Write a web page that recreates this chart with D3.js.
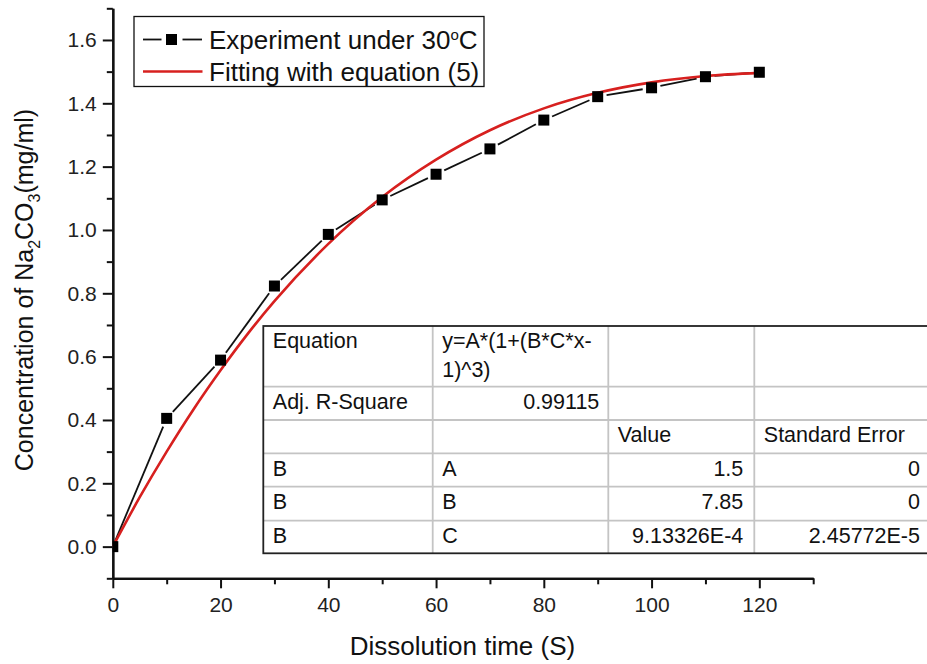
<!DOCTYPE html>
<html>
<head>
<meta charset="utf-8">
<script src="https://cdn.jsdelivr.net/npm/d3@7"></script>
<style>
  html, body { margin: 0; padding: 0; background: #fff; }
  svg { display: block; font-family: "Liberation Sans", Arial, sans-serif; }
</style>
</head>
<body>
<svg id="chart" width="927" height="664"></svg>
<script>
// Measured dissolution data at 30 °C
const timeS = [0, 10, 20, 30, 40, 50, 60, 70, 80, 90, 100, 110, 120];
const concentration = [0, 0.405, 0.589, 0.823, 0.986, 1.095, 1.176, 1.256, 1.347, 1.421, 1.449, 1.484, 1.498];

// Fitted curve, sampled along the time axis
const fitTime = [0, 5, 10, 15, 20, 25, 30, 40, 50, 60, 70, 80, 90, 100, 110, 120];
const fitConc = [0, 0.156, 0.300, 0.434, 0.557, 0.671, 0.775, 0.956, 1.104, 1.222, 1.315, 1.384, 1.433, 1.466, 1.486, 1.496];

// Axis ticks
const xMajorTicks = [0, 20, 40, 60, 80, 100, 120];
const xMinorTicks = [10, 30, 50, 70, 90, 110, 130];
const yMajorTicks = [0, 0.2, 0.4, 0.6, 0.8, 1.0, 1.2, 1.4, 1.6];
const yMinorTicks = [-0.1, 0.1, 0.3, 0.5, 0.7, 0.9, 1.1, 1.3, 1.5, 1.7];

// Legend entries
const legendLabels = ["Experiment under 30", "Fitting with equation (5)"];

// Fit results table
const tableRows = [
  ["Equation", "y=A*(1+(B*C*x-|1)^3)", "", ""],
  ["Adj. R-Square", "0.99115", "", ""],
  ["", "", "Value", "Standard Error"],
  ["B", "A", "1.5", "0"],
  ["B", "B", "7.85", "0"],
  ["B", "C", "9.13326E-4", "2.45772E-5"]
];

const RED = "#d7201f";
const INK = "#111";

const svg = d3.select("#chart");

const x = d3.scaleLinear().domain([0, 130]).range([112.8, 813.2]);
const y = d3.scaleLinear().domain([-0.1, 1.7]).range([578.3, 8.3]);

// ---- axes ----
function styleAxis(g) {
  g.selectAll("path.domain").attr("stroke", INK).attr("stroke-width", 2.2);
  g.selectAll(".tick line").attr("stroke", INK).attr("stroke-width", 2);
  g.selectAll(".tick text").attr("fill", "#222")
    .style("font-family", "'Liberation Sans', Arial, sans-serif").style("font-size", "21px");
}

const xAxisMinor = d3.axisBottom(x).tickValues(xMinorTicks).tickSize(6).tickSizeOuter(0).tickFormat("");
const xAxis = d3.axisBottom(x).tickValues(xMajorTicks).tickSize(10).tickSizeOuter(0).tickPadding(9)
  .tickFormat(d3.format("d"));
svg.append("g").attr("transform", `translate(0,${y(-0.1)})`).call(xAxisMinor).call(styleAxis);
svg.append("g").attr("transform", `translate(0,${y(-0.1)})`).call(xAxis).call(styleAxis);

const yAxisMinor = d3.axisLeft(y).tickValues(yMinorTicks).tickSize(6).tickSizeOuter(0).tickFormat("");
const yAxis = d3.axisLeft(y).tickValues(yMajorTicks).tickSize(10).tickSizeOuter(0).tickPadding(6)
  .tickFormat(d3.format(".1f"));
svg.append("g").attr("transform", `translate(${x(0)},0)`).call(yAxisMinor).call(styleAxis);
svg.append("g").attr("transform", `translate(${x(0)},0)`).call(yAxis).call(styleAxis);

// ---- axis titles ----
svg.append("text")
  .attr("x", 462.5).attr("y", 655)
  .attr("text-anchor", "middle")
  .attr("fill", INK).style("font-size", "26px")
  .text("Dissolution time (S)");

const yTitle = svg.append("text")
  .attr("transform", "translate(33,290) rotate(-90)")
  .attr("text-anchor", "middle")
  .attr("fill", INK).style("font-size", "25px");
yTitle.append("tspan").text("Concentration of Na");
yTitle.append("tspan").attr("dy", "7px").style("font-size", "16px").text("2");
yTitle.append("tspan").attr("dy", "-7px").text("CO");
yTitle.append("tspan").attr("dy", "7px").style("font-size", "16px").text("3");
yTitle.append("tspan").attr("dy", "-7px").text("(mg/ml)");

// ---- plot data, clipped to the axes frame ----
svg.append("clipPath").attr("id", "plot-clip")
  .append("rect")
  .attr("x", x(0)).attr("y", y(1.7) - 6)
  .attr("width", x(130) - x(0) + 6).attr("height", y(-0.1) - y(1.7) + 6);

const plot = svg.append("g").attr("clip-path", "url(#plot-clip)");

const expPts = timeS.map((t, i) => [x(t), y(concentration[i])]);

// connecting segments stop short of each marker
const GAP = 9;
const segs = [];
for (let i = 0; i < expPts.length - 1; i++) {
  const [x0, y0] = expPts[i], [x1, y1] = expPts[i + 1];
  const d = Math.hypot(x1 - x0, y1 - y0);
  if (d <= 2 * GAP) continue;
  const ux = (x1 - x0) / d, uy = (y1 - y0) / d;
  const g0 = i === 0 ? 3 : GAP;
  segs.push([x0 + ux * g0, y0 + uy * g0, x1 - ux * GAP, y1 - uy * GAP]);
}
plot.selectAll("line.seg").data(segs).join("line")
  .attr("class", "seg")
  .attr("x1", d => d[0]).attr("y1", d => d[1])
  .attr("x2", d => d[2]).attr("y2", d => d[3])
  .attr("stroke", INK).attr("stroke-width", 1.8);

// fitted curve
const fitLine = d3.line()
  .x((d, i) => x(fitTime[i]))
  .y(d => y(d))
  .curve(d3.curveMonotoneX);
plot.append("path")
  .attr("d", fitLine(fitConc))
  .attr("fill", "none")
  .attr("stroke", RED).attr("stroke-width", 2.6);

// markers
const MS = 11;
plot.selectAll("rect.pt").data(expPts).join("rect")
  .attr("class", "pt")
  .attr("x", d => d[0] - MS / 2).attr("y", d => d[1] - MS / 2)
  .attr("width", MS).attr("height", MS)
  .attr("fill", "#000");

// ---- legend ----
const lg = svg.append("g");
lg.append("rect").attr("x", 134).attr("y", 16.5).attr("width", 350).attr("height", 70)
  .attr("fill", "#fff").attr("stroke", INK).attr("stroke-width", 1.3);
lg.append("line").attr("x1", 143).attr("x2", 161.5).attr("y1", 39.5).attr("y2", 39.5)
  .attr("stroke", INK).attr("stroke-width", 1.8);
lg.append("line").attr("x1", 182.5).attr("x2", 202).attr("y1", 39.5).attr("y2", 39.5)
  .attr("stroke", INK).attr("stroke-width", 1.8);
lg.append("rect").attr("x", 171.5 - MS / 2).attr("y", 39.5 - MS / 2).attr("width", MS).attr("height", MS)
  .attr("fill", "#000");
lg.append("line").attr("x1", 143).attr("x2", 202.5).attr("y1", 71.5).attr("y2", 71.5)
  .attr("stroke", RED).attr("stroke-width", 2.6);

const l1 = lg.append("text").attr("x", 209).attr("y", 48.5)
  .attr("fill", INK).style("font-size", "26px");
l1.append("tspan").text(legendLabels[0]);
l1.append("tspan").attr("dy", "-9px").style("font-size", "15px").text("o");
l1.append("tspan").attr("dy", "9px").text("C");
lg.append("text").attr("x", 209).attr("y", 80.5)
  .attr("fill", INK).style("font-size", "26px")
  .text(legendLabels[1]);

// ---- fit results table ----
const colX = [263.3, 432.7, 608.3, 754.3, 931];
const rowY = [326, 386.7, 420, 453.3, 486.7, 520.7, 553.3];
const tg = svg.append("g");
tg.append("rect").attr("x", colX[0]).attr("y", rowY[0])
  .attr("width", colX[4] - colX[0]).attr("height", rowY[6] - rowY[0])
  .attr("fill", "#fff");
// inner grid
tg.selectAll("line.rg").data(rowY.slice(1, -1)).join("line")
  .attr("x1", colX[0]).attr("x2", colX[4]).attr("y1", d => d).attr("y2", d => d)
  .attr("stroke", "#c4c4c4").attr("stroke-width", 1.8);
tg.selectAll("line.cg").data(colX.slice(1, -1)).join("line")
  .attr("y1", rowY[0]).attr("y2", rowY[6]).attr("x1", d => d).attr("x2", d => d)
  .attr("stroke", "#c4c4c4").attr("stroke-width", 1.8);
// outer border
tg.append("rect").attr("x", colX[0]).attr("y", rowY[0])
  .attr("width", colX[4] - colX[0]).attr("height", rowY[6] - rowY[0])
  .attr("fill", "none").attr("stroke", "#222").attr("stroke-width", 1.8);

tableRows.forEach((row, r) => {
  row.forEach((cell, c) => {
    if (!cell) return;
    const numeric = !isNaN(Number(cell));
    const cx = numeric ? colX[c + 1] - (c === 1 ? 9 : 11) : colX[c] + 9.5;
    const t = tg.append("text")
      .attr("fill", INK).style("font-size", "21.5px")
      .attr("text-anchor", numeric ? "end" : "start")
      .attr("x", cx)
      .attr("y", rowY[r] + 22.3);
    cell.split("|").forEach((part, k) => {
      t.append("tspan")
        .attr("x", cx)
        .attr("dy", k === 0 ? 0 : 29)
        .text(part);
    });
  });
});
</script>
</body>
</html>
